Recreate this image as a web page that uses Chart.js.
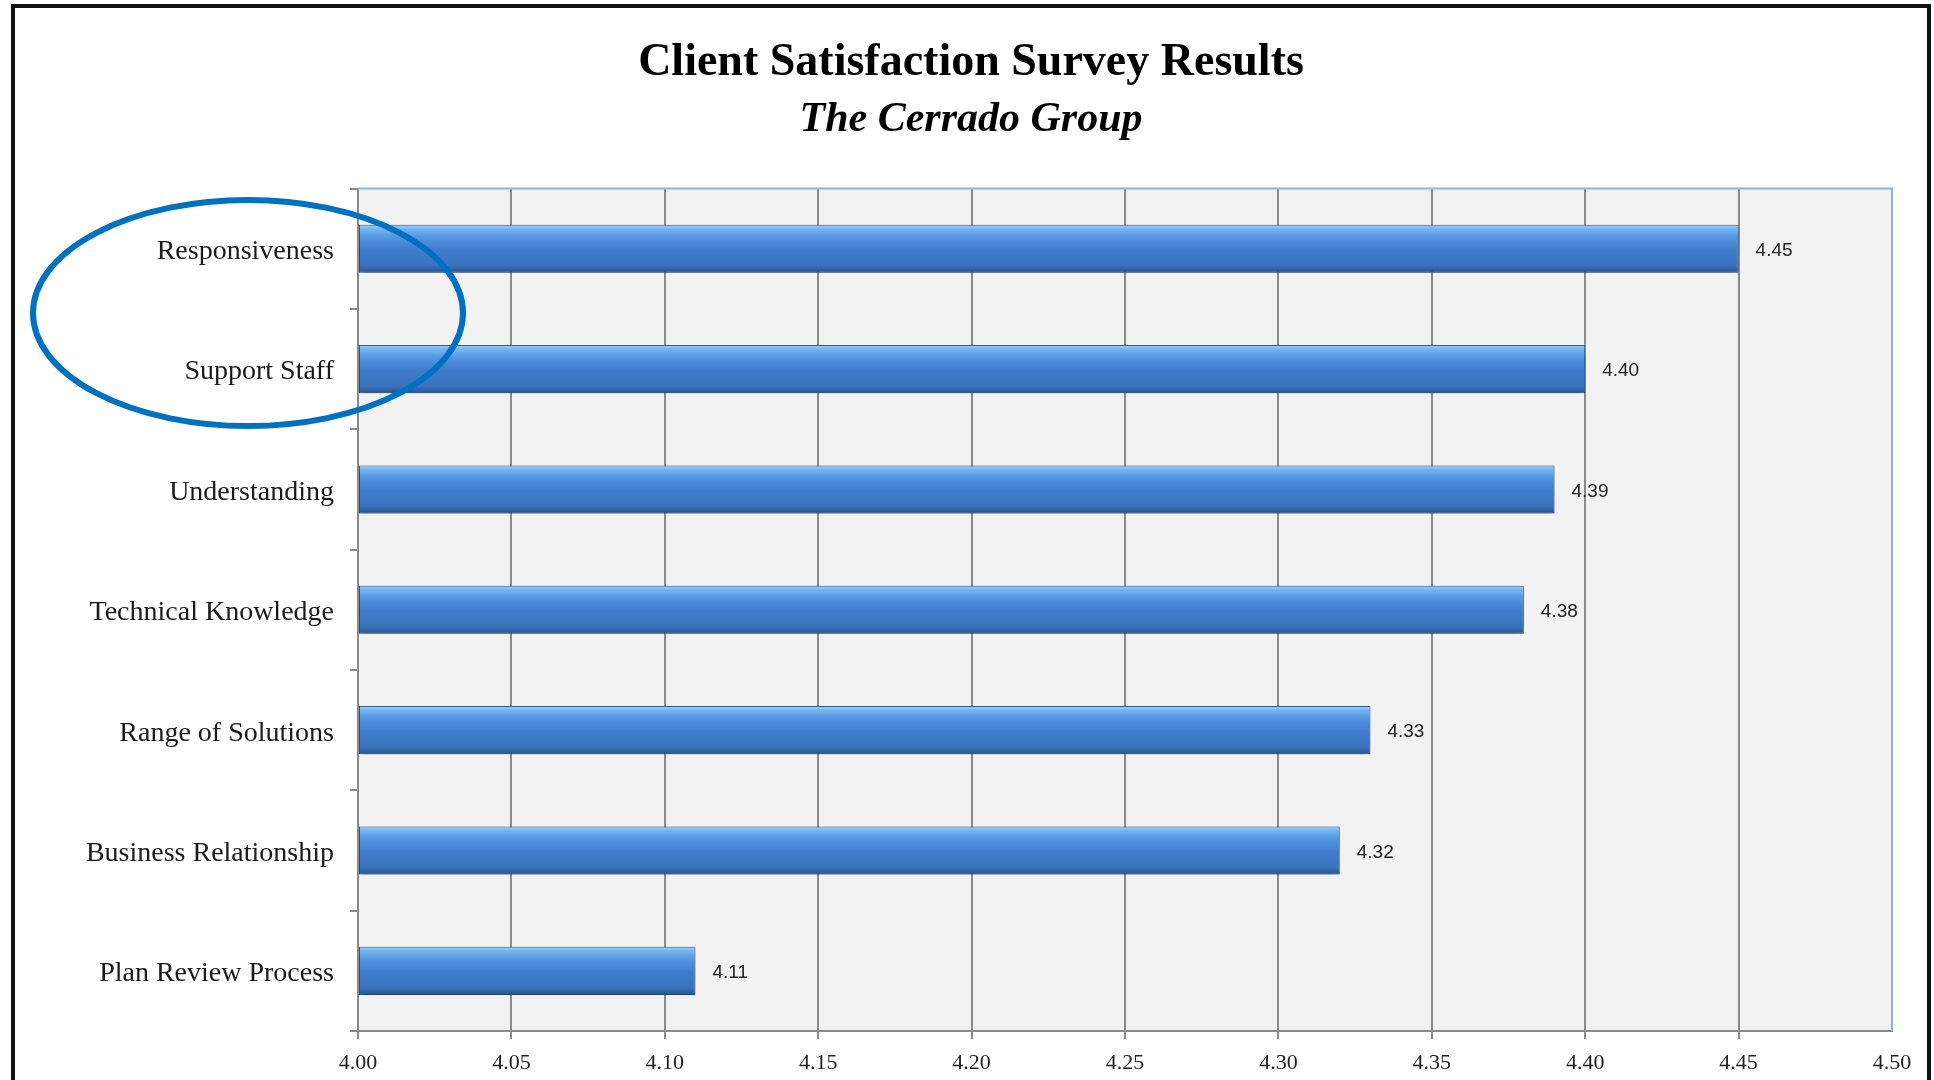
<!DOCTYPE html>
<html>
<head>
<meta charset="utf-8">
<title>Client Satisfaction Survey Results</title>
<script src="https://cdn.jsdelivr.net/npm/chart.js@4.4.1/dist/chart.umd.min.js"></script>
<style>
  html, body { margin: 0; padding: 0; background: #fff; overflow: hidden; }
  #wrap { position: relative; width: 1934px; height: 1080px; }
  #frame {
    position: absolute; left: 11px; top: 4px; width: 1912px; height: 1100px;
    border: 4px solid #111; pointer-events: none;
  }
</style>
</head>
<body>
<div id="wrap">
  <canvas id="surveyChart" width="1934" height="1080"></canvas>
  <div id="frame"></div>
</div>
<script>
const categories = [
  "Responsiveness",
  "Support Staff",
  "Understanding",
  "Technical Knowledge",
  "Range of Solutions",
  "Business Relationship",
  "Plan Review Process"
];
const scores = [4.45, 4.40, 4.39, 4.38, 4.33, 4.32, 4.11];
const axisMin = 4.00;
const axisMax = 4.50;
const axisStep = 0.05;

const SERIF = "'Liberation Serif', 'Times New Roman', serif";
const GRID = "#8a8a8a";

function barGradient(context) {
  const chart = context.chart;
  if (!chart.chartArea || !chart.scales.y) return "#3f7fcf";
  const y = chart.scales.y.getPixelForValue(context.dataIndex);
  const half = 24;
  const g = chart.ctx.createLinearGradient(0, y - half, 0, y + half);
  g.addColorStop(0, "#a3d4fb");
  g.addColorStop(0.08, "#74b6f2");
  g.addColorStop(0.25, "#5597e3");
  g.addColorStop(0.5, "#3f7ecd");
  g.addColorStop(0.85, "#3a72bc");
  g.addColorStop(1, "#28558c");
  return g;
}

const plotBackground = {
  id: "plotBackground",
  beforeDraw(chart) {
    const { ctx, chartArea: a } = chart;
    ctx.save();
    ctx.fillStyle = "#f2f2f2";
    ctx.fillRect(a.left, a.top, a.right - a.left, a.bottom - a.top);
    ctx.restore();
  },
  beforeDatasetsDraw(chart) {
    const { ctx, chartArea: a } = chart;
    ctx.save();
    ctx.strokeStyle = "#8eb4e3";
    ctx.lineWidth = 2;
    ctx.beginPath();
    ctx.moveTo(a.left, a.top);
    ctx.lineTo(a.right, a.top);
    ctx.lineTo(a.right, a.bottom);
    ctx.stroke();
    ctx.restore();
  }
};

const barShadow = {
  id: "barShadow",
  beforeDatasetDraw(chart) {
    const ctx = chart.ctx;
    ctx.save();
    ctx.shadowColor = "rgba(0,0,0,0.35)";
    ctx.shadowBlur = 7;
    ctx.shadowOffsetY = 4;
  },
  afterDatasetDraw(chart) {
    chart.ctx.restore();
  }
};

const valueLabels = {
  id: "valueLabels",
  afterDatasetsDraw(chart) {
    const ctx = chart.ctx;
    const meta = chart.getDatasetMeta(0);
    ctx.save();
    ctx.font = "19px 'Liberation Sans', Arial, sans-serif";
    ctx.fillStyle = "#222";
    ctx.textAlign = "left";
    ctx.textBaseline = "middle";
    meta.data.forEach((bar, i) => {
      ctx.fillText(scores[i].toFixed(2), bar.x + 17, bar.y + 2);
    });
    ctx.restore();
  }
};

const highlightOval = {
  id: "highlightOval",
  afterDraw(chart) {
    const ctx = chart.ctx;
    ctx.save();
    ctx.strokeStyle = "#0070c0";
    ctx.lineWidth = 6;
    ctx.beginPath();
    ctx.ellipse(248, 313, 215, 113, 0, 0, Math.PI * 2);
    ctx.stroke();
    ctx.restore();
  }
};

document.addEventListener("DOMContentLoaded", () => {
  const ctx = document.getElementById("surveyChart");

  new Chart(ctx, {
    type: "bar",
    data: {
      labels: categories,
      datasets: [{
        label: "Score",
        data: scores,
        base: axisMin,
        backgroundColor: barGradient,
        borderColor: "#2d5d96",
        borderWidth: 1,
        borderSkipped: false,
        barPercentage: 0.4,
        categoryPercentage: 1.0
      }]
    },
    options: {
      indexAxis: "y",
      responsive: false,
      animation: false,
      layout: { padding: { left: 50, right: 42, top: 0, bottom: 0 } },
      plugins: {
        legend: { display: false },
        tooltip: { enabled: false },
        title: {
          display: true,
          text: "Client Satisfaction Survey Results",
          color: "#000",
          font: { family: SERIF, size: 46, weight: "bold", lineHeight: 1.2 },
          padding: { top: 36, bottom: 0 }
        },
        subtitle: {
          display: true,
          text: "The Cerrado Group",
          color: "#000",
          font: { family: SERIF, size: 42, weight: "bold", style: "italic", lineHeight: 1.2 },
          padding: { top: 4, bottom: 43 }
        }
      },
      scales: {
        x: {
          min: axisMin,
          max: axisMax,
          afterFit(scale) { scale.height = 49; },
          ticks: {
            stepSize: axisStep,
            color: "#222",
            padding: 11,
            font: { family: SERIF, size: 22 },
            callback: v => Number(v).toFixed(2)
          },
          grid: {
            color: c => (c.tick && Math.abs(c.tick.value - axisMax) < 1e-6) ? "rgba(0,0,0,0)" : GRID,
            lineWidth: 2,
            tickLength: 8
          },
          border: { color: GRID, width: 2 }
        },
        y: {
          afterFit(scale) { scale.width = 308; },
          ticks: {
            color: "#1a1a1a",
            padding: 16,
            labelOffset: 3,
            font: { family: SERIF, size: 28 }
          },
          grid: {
            drawOnChartArea: false,
            color: GRID,
            lineWidth: 2,
            tickLength: 8
          },
          border: { color: GRID, width: 2 }
        }
      }
    },
    plugins: [plotBackground, barShadow, valueLabels, highlightOval]
  });
});
</script>
</body>
</html>
